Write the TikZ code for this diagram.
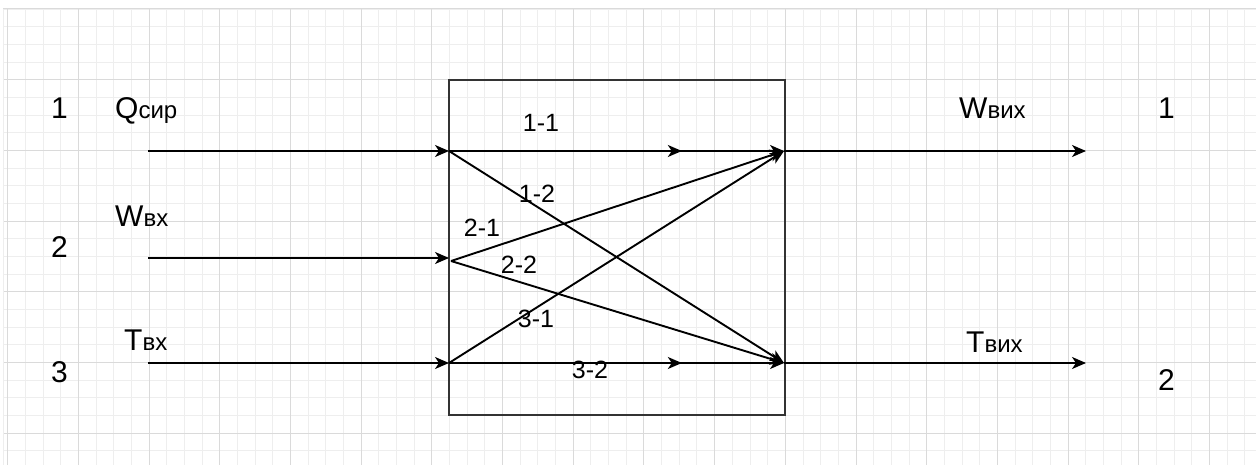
\documentclass[tikz,border=0pt]{standalone}
\usepackage{fontspec}
\setmainfont{Liberation Sans}
\usetikzlibrary{arrows.meta,decorations.markings}
\definecolor{gridminor}{HTML}{EEEEEE}
\definecolor{gridmajor}{HTML}{DADADA}
\definecolor{boxline}{HTML}{333333}
\tikzset{
  tip/.tip={Stealth[length=14pt,width=12pt,inset=4pt]},
  flow/.style={line width=1.9pt, -tip},
  midflow/.style={line width=1.9pt, -tip,
    postaction={decorate},
    decoration={markings, mark=at position #1 with {\arrow{tip}}}},
  bigtxt/.style={font=\fontsize{30}{30}\selectfont, inner sep=0pt, anchor=base west},
  pairtxt/.style={font=\fontsize{25}{25}\selectfont, inner sep=0pt, anchor=base},
  blockbox/.style={draw=boxline, line width=1.8pt, minimum width=336pt, minimum height=335pt, inner sep=0pt}
}
\newcommand{\subtxt}[1]{{\fontsize{24}{24}\selectfont #1}}
\begin{document}
\begin{tikzpicture}[x=1pt,y=-1pt]
\useasboundingbox (0,0) rectangle (1259,465);
\fill[white] (0,0) rectangle (1259,465);
% grid
\foreach \i in {0,...,71} {
  \draw[gridminor, line width=0.9pt] ({7.6+17.675*\i},9) -- ({7.6+17.675*\i},465);
}
\foreach \i in {0,...,26} {
  \draw[gridminor, line width=0.9pt] (3,{9+17.675*\i}) -- (1256,{9+17.675*\i});
}
\foreach \i in {0,...,17} {
  \draw[gridmajor, line width=1pt] ({7.6+70.7*\i},9) -- ({7.6+70.7*\i},465);
}
\foreach \i in {0,...,6} {
  \draw[gridmajor, line width=1pt] (3,{9+70.7*\i}) -- (1256,{9+70.7*\i});
}
\draw[gridminor, line width=0.9pt] (3,9) -- (3,465);

% block
\node[blockbox] (blk) at (617,247.5) {};

% end points
\coordinate (s1) at (148,151);
\coordinate (s2) at (148,258);
\coordinate (s3) at (148,363);
\coordinate (l1) at (449,151);
\coordinate (l2in) at (449,258);
\coordinate (l2) at (451,261);
\coordinate (l3) at (449,363);
\coordinate (r1) at (784,151);
\coordinate (r2) at (784,363);
\coordinate (o1) at (1086,151);
\coordinate (o2) at (1086,363);

% inputs
\draw[flow] (s1) -- (l1);
\draw[flow] (s2) -- (l2in);
\draw[flow] (s3) -- (l3);

% inner connections
\draw[midflow=0.695] (l1) -- (r1);
\draw[flow] (l1) -- (r2);
\draw[flow] (l2) -- (r1);
\draw[flow] (l2) -- (r2);
\draw[flow] (l3) -- (r1);
\draw[midflow=0.695] (l3) -- (r2);

% outputs
\draw[flow] (r1) -- (o1);
\draw[flow] (r2) -- (o2);

% left labels
\node[bigtxt] (n1) at (51,119) {1};
\node[bigtxt] (n2) at (51,258) {2};
\node[bigtxt] (n3) at (51,382) {3};
\node[bigtxt] (q) at (115,119) {Q\subtxt{сир}};
\node[bigtxt] (w) at (115,227) {W\subtxt{вх}};
\node[bigtxt] (t) at (124,350) {T\subtxt{вх}};

% right labels
\node[bigtxt] (m1) at (1158,119) {1};
\node[bigtxt] (m2) at (1158,390) {2};
\node[bigtxt] (wo) at (959,119) {W\subtxt{вих}};
\node[bigtxt] (to) at (966,352) {T\subtxt{вих}};

% pair labels
\node[pairtxt] (p11) at (541,132) {1-1};
\node[pairtxt] (p12) at (537,203) {1-2};
\node[pairtxt] (p21) at (482,237) {2-1};
\node[pairtxt] (p22) at (519,273) {2-2};
\node[pairtxt] (p31) at (536,327) {3-1};
\node[pairtxt] (p32) at (590,378) {3-2};
\end{tikzpicture}
\end{document}
